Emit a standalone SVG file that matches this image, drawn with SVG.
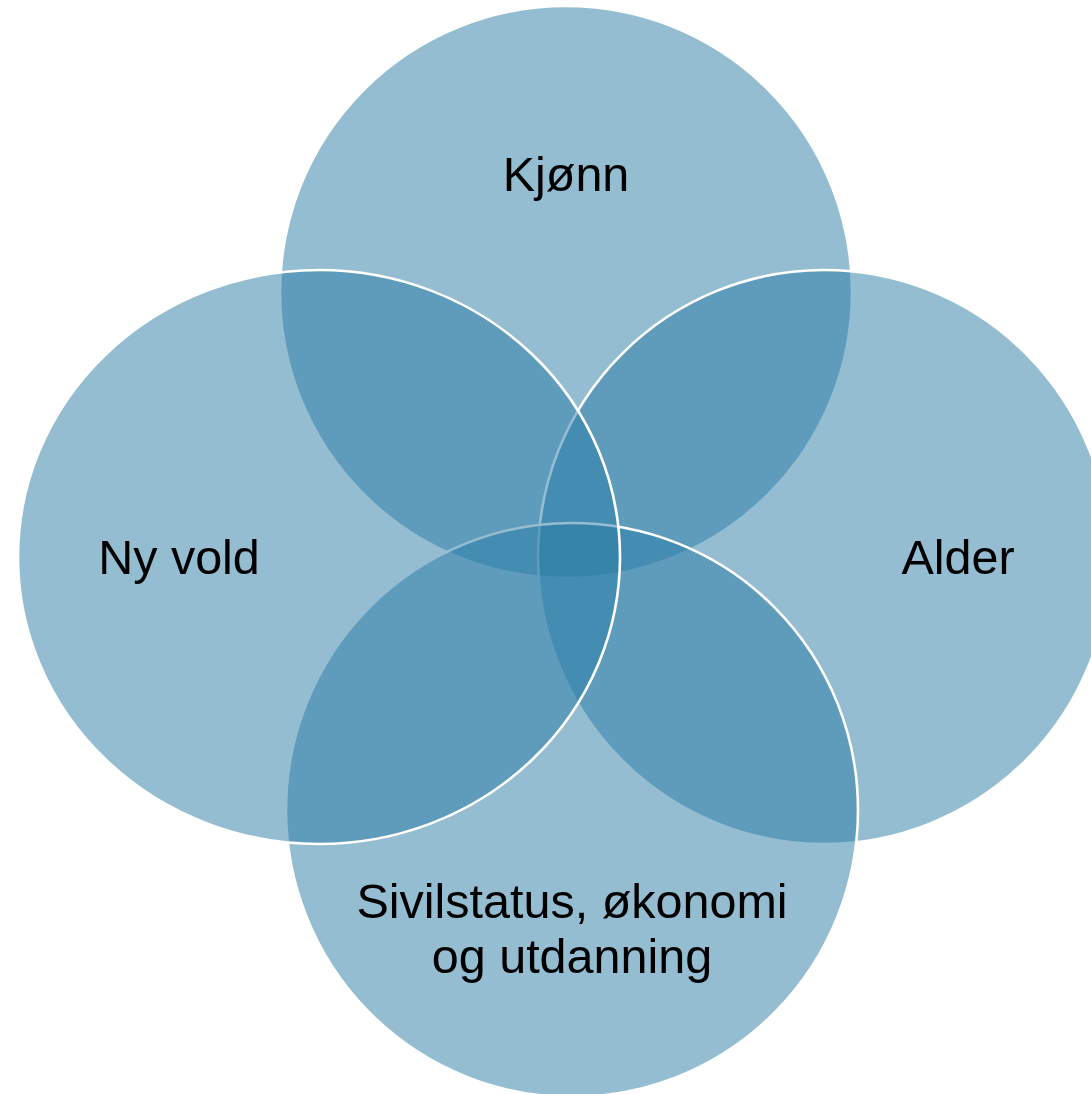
<svg xmlns="http://www.w3.org/2000/svg" width="1091" height="1094" viewBox="0 0 1091 1094">
<style>
.c{fill:#297BA5;fill-opacity:0.5;stroke:#FFFFFF;stroke-width:2.6}
.t{font-family:"Liberation Sans",Arial,sans-serif;font-size:48.5px;fill:#000000;text-anchor:middle}
</style>
<rect width="1091" height="1094" fill="#FFFFFF"/>
<g id="node-kjonn">
<ellipse class="c" cx="566" cy="292" rx="286" ry="286"/>
<text class="t" x="566" y="191">Kjønn</text>
</g>
<g id="node-alder">
<ellipse class="c" cx="824" cy="557" rx="286" ry="287"/>
<text class="t" x="958" y="574">Alder</text>
</g>
<g id="node-sivilstatus">
<ellipse class="c" cx="572" cy="810" rx="286" ry="287"/>
<text class="t" x="572" y="918">Sivilstatus, økonomi</text>
<text class="t" x="572" y="973">og utdanning</text>
</g>
<g id="node-nyvold">
<ellipse class="c" cx="319" cy="557" rx="301" ry="287"/>
<text class="t" x="179" y="574">Ny vold</text>
</g>
<g id="connectors"/>
</svg>
